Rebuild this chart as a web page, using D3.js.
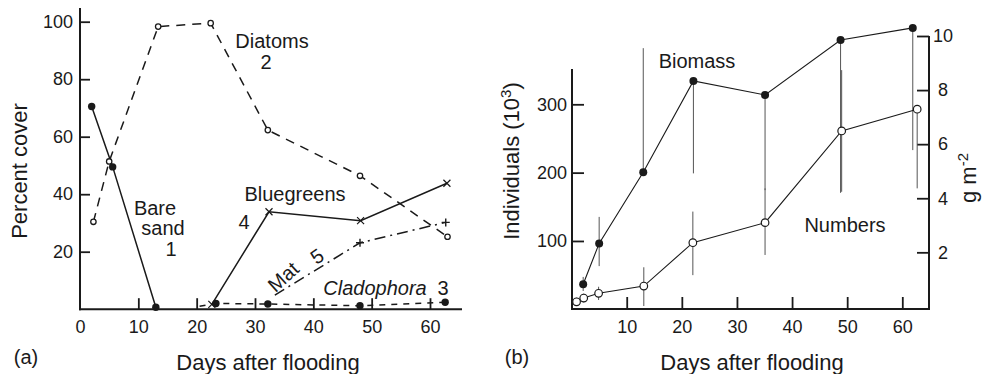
<!DOCTYPE html>
<html><head><meta charset="utf-8">
<script src="https://cdn.jsdelivr.net/npm/d3@7"></script>
<style>
body{margin:0;background:#fff}
svg{display:block;font-family:"Liberation Sans",Arial,Helvetica,sans-serif}
</style></head><body>
<svg id="chart" width="982" height="374"></svg>
<script>
// (a) Percent cover of each surface type after flooding
const bareSandDays = [2, 5.6, 13];
const bareSand = [70.5, 49.5, 0.7];
const diatomDays = [2.3, 5, 13.4, 22.4, 32.2, 48, 63];
const diatoms = [30.4, 51.4, 98.3, 99.5, 62.3, 46.4, 25.2];
const cladophoraDays = [20.5, 23.3, 32.2, 48, 62.6];
const cladophora = [1, 2, 1.8, 1.2, 2.4];
const bluegreenDays = [22.6, 32.4, 48.1, 62.9];
const bluegreens = [1.7, 33.9, 30.8, 43.8];
const matDays = [33.4, 48, 62.7];
const mat = [4.9, 23.1, 30.2];
const coverTicks = [20, 40, 60, 80, 100];
const dayTicksA = [0, 10, 20, 30, 40, 50, 60];

// (b) Numbers (thousands of individuals) and biomass (g m-2) with ranges
const numberDays = [0.9, 2.2, 4.9, 13.1, 22, 35.1, 49, 62.7];
const numbers = [11, 16.5, 23.4, 34, 97.5, 126.8, 261, 292.8];
const numbersLow = [5, 10, 13.6, 4.8, 50, 79.5, 172, 177];
const numbersHigh = [17, 23, 33, 61.5, 143, 177, 350, 292.8];
const biomassDays = [2.1, 5, 13, 22.1, 35.1, 48.8, 61.9];
const biomass = [0.82, 2.33, 4.96, 8.34, 7.82, 9.85, 10.3];
const biomassLow = [0.57, 1.49, 4.96, 4.92, 4.3, 4.2, 5.78];
const biomassHigh = [1.09, 3.31, 9.55, 8.34, 7.82, 9.85, 10.3];
const individualTicks = [100, 200, 300];
const gramTicks = [2, 4, 6, 8, 10];
const dayTicksB = [10, 20, 30, 40, 50, 60];

const INK = "#1a1a1a";
const svg = d3.select("#chart");

function styleAxis(g, size) {
  g.select(".domain").remove();
  g.attr("font-family", null).attr("font-size", null);
  g.selectAll(".tick line").attr("stroke", INK).attr("stroke-width", 1.8);
  g.selectAll(".tick text").attr("fill", INK).style("font-size", size + "px");
}
function pts(days, vals) { return days.map((d, i) => [d, vals[i]]); }

// ---------- panel (a) ----------
const xA = d3.scaleLinear().domain([0, 60]).range([80, 430]);
const yA = d3.scaleLinear().domain([0, 100]).range([309.2, 21.7]);
const gA = svg.append("g");

gA.append("g").attr("transform", "translate(80,0)")
  .call(d3.axisLeft(yA).tickValues(coverTicks).tickSizeInner(-10).tickSizeOuter(0).tickPadding(7))
  .call(g => styleAxis(g, 18));
gA.append("g").attr("transform", `translate(0,${yA(0)})`)
  .call(d3.axisBottom(xA).tickValues(dayTicksA).tickSizeInner(-11).tickSizeOuter(0).tickPadding(11))
  .call(g => styleAxis(g, 18))
  .call(g => g.selectAll(".tick").filter(d => d === 0).select("line").remove());
gA.append("line").attr("x1", 80).attr("x2", 80).attr("y1", yA(0) + 1).attr("y2", 8)
  .attr("stroke", INK).attr("stroke-width", 2);
gA.append("line").attr("x1", 79).attr("x2", 462).attr("y1", yA(0)).attr("y2", yA(0))
  .attr("stroke", INK).attr("stroke-width", 2);

const lineA = d3.line().x(d => xA(d[0])).y(d => yA(d[1]));
function seriesA(data, dash) {
  gA.append("path").datum(data).attr("d", lineA).attr("fill", "none")
    .attr("stroke", INK).attr("stroke-width", 1.5).attr("stroke-dasharray", dash);
}
seriesA(pts(diatomDays, diatoms), "9,7");
seriesA(pts(cladophoraDays, cladophora), "6,6");
seriesA(pts(matDays, mat), "11,5,2,5");
seriesA(pts(bareSandDays, bareSand), null);
seriesA(pts(bluegreenDays, bluegreens), null);

// markers
gA.selectAll(".diat").data(pts(diatomDays, diatoms)).join("circle")
  .attr("cx", d => xA(d[0])).attr("cy", d => yA(d[1])).attr("r", 2.7)
  .attr("fill", "#fff").attr("stroke", INK).attr("stroke-width", 1.3);
gA.selectAll(".bare").data(pts(bareSandDays, bareSand)).join("circle")
  .attr("cx", d => xA(d[0])).attr("cy", d => yA(d[1])).attr("r", 3.7).attr("fill", INK);
gA.selectAll(".clad").data(pts(cladophoraDays, cladophora).slice(1)).join("circle")
  .attr("cx", d => xA(d[0])).attr("cy", d => yA(d[1])).attr("r", 3.7).attr("fill", INK);
gA.selectAll(".blue").data(pts(bluegreenDays, bluegreens)).join("path")
  .attr("transform", d => `translate(${xA(d[0])},${yA(d[1])})`)
  .attr("d", "M-3.5,-3.5L3.5,3.5M-3.5,3.5L3.5,-3.5")
  .attr("stroke", INK).attr("stroke-width", 1.2);
gA.selectAll(".mat").data(pts(matDays, mat).slice(1)).join("path")
  .attr("transform", d => `translate(${xA(d[0])},${yA(d[1])})`)
  .attr("d", "M-4,0L4,0M0,-4L0,4")
  .attr("stroke", INK).attr("stroke-width", 1.4);

// labels
function label(g, x, y, txt, size, opts = {}) {
  const t = g.append("text").attr("x", x).attr("y", y).attr("fill", INK)
    .attr("text-anchor", opts.anchor || "middle").style("font-size", size + "px").text(txt);
  if (opts.italic) t.style("font-style", "italic");
  if (opts.rotate != null) t.attr("transform", `rotate(${opts.rotate},${x},${y})`);
  return t;
}
label(gA, 272, 48, "Diatoms", 20);
label(gA, 266, 69, "2", 20);
label(gA, 155, 215, "Bare", 20);
label(gA, 163, 235, "sand", 20);
label(gA, 171, 256, "1", 20);
label(gA, 244, 229, "4", 20);
label(gA, 295, 201, "Bluegreens", 20);
label(gA, 288, 282, "Mat", 20, { rotate: -42 });
label(gA, 321, 262, "5", 20, { rotate: -35 });
label(gA, 375, 295, "Cladophora", 20, { italic: true });
label(gA, 443, 295, "3", 20);
label(gA, 268, 370, "Days after flooding", 22);
label(gA, 26, 364, "(a)", 20);
gA.append("text").attr("transform", "translate(27,171) rotate(-90)")
  .attr("text-anchor", "middle").attr("fill", INK).style("font-size", "22px").text("Percent cover");

// ---------- panel (b) ----------
const xB = d3.scaleLinear().domain([0, 60]).range([571.6, 902.3]);
const yB = d3.scaleLinear().domain([0, 300]).range([309.3, 104.3]);
const wB = d3.scaleLinear().domain([0, 10]).range([306.4, 36]);
const gB = svg.append("g");

gB.append("g").attr("transform", "translate(572,0)")
  .call(d3.axisLeft(yB).tickValues(individualTicks).tickSizeInner(-12).tickSizeOuter(0).tickPadding(5))
  .call(g => styleAxis(g, 18));
gB.append("g").attr("transform", "translate(929,0)")
  .call(d3.axisRight(wB).tickValues(gramTicks).tickSizeInner(-12).tickSizeOuter(0).tickPadding(0))
  .call(g => styleAxis(g, 18))
  .call(g => g.selectAll(".tick text").attr("x", 14).attr("text-anchor", "middle"));
gB.append("g").attr("transform", "translate(0,309)")
  .call(d3.axisBottom(xB).tickValues(dayTicksB).tickSizeInner(-12).tickSizeOuter(0).tickPadding(11))
  .call(g => styleAxis(g, 18));
gB.append("line").attr("x1", 572).attr("x2", 572).attr("y1", 310).attr("y2", 69)
  .attr("stroke", INK).attr("stroke-width", 2);
gB.append("line").attr("x1", 929).attr("x2", 929).attr("y1", 310).attr("y2", 36)
  .attr("stroke", INK).attr("stroke-width", 2);
gB.append("line").attr("x1", 571).attr("x2", 930).attr("y1", 309).attr("y2", 309)
  .attr("stroke", INK).attr("stroke-width", 2);

// range bars
gB.selectAll(".nbar").data(numberDays).join("line")
  .attr("x1", d => xB(d)).attr("x2", d => xB(d))
  .attr("y1", (d, i) => yB(numbersLow[i])).attr("y2", (d, i) => yB(numbersHigh[i]))
  .attr("stroke", "#555").attr("stroke-width", 1);
gB.selectAll(".bbar").data(biomassDays).join("line")
  .attr("x1", d => xB(d)).attr("x2", d => xB(d))
  .attr("y1", (d, i) => wB(biomassLow[i])).attr("y2", (d, i) => wB(biomassHigh[i]))
  .attr("stroke", "#555").attr("stroke-width", 1);

gB.append("path").datum(pts(numberDays, numbers))
  .attr("d", d3.line().x(d => xB(d[0])).y(d => yB(d[1])))
  .attr("fill", "none").attr("stroke", INK).attr("stroke-width", 1.1);
gB.append("path").datum(pts(biomassDays, biomass))
  .attr("d", d3.line().x(d => xB(d[0])).y(d => wB(d[1])))
  .attr("fill", "none").attr("stroke", INK).attr("stroke-width", 1.1);

gB.selectAll(".num").data(pts(numberDays, numbers)).join("circle")
  .attr("cx", d => xB(d[0])).attr("cy", d => yB(d[1])).attr("r", 3.8)
  .attr("fill", "#fff").attr("stroke", INK).attr("stroke-width", 1.2);
gB.selectAll(".bio").data(pts(biomassDays, biomass)).join("circle")
  .attr("cx", d => xB(d[0])).attr("cy", d => wB(d[1])).attr("r", 4).attr("fill", INK);

label(gB, 697, 68, "Biomass", 20);
label(gB, 845, 232, "Numbers", 20);
label(gB, 752, 370, "Days after flooding", 22);
label(gB, 517, 364, "(b)", 20);

const indiv = gB.append("text").attr("transform", "translate(519,161) rotate(-90)")
  .attr("text-anchor", "middle").attr("fill", INK).style("font-size", "22px");
indiv.append("tspan").text("Individuals (10");
indiv.append("tspan").attr("dy", -8).style("font-size", "15px").text("3");
indiv.append("tspan").attr("dy", 8).text(")");

const gm = gB.append("text").attr("transform", "translate(976,178) rotate(-90)")
  .attr("text-anchor", "middle").attr("fill", INK).style("font-size", "22px");
gm.append("tspan").text("g m");
gm.append("tspan").attr("dy", -8).style("font-size", "15px").text("-2");
</script>
</body></html>
